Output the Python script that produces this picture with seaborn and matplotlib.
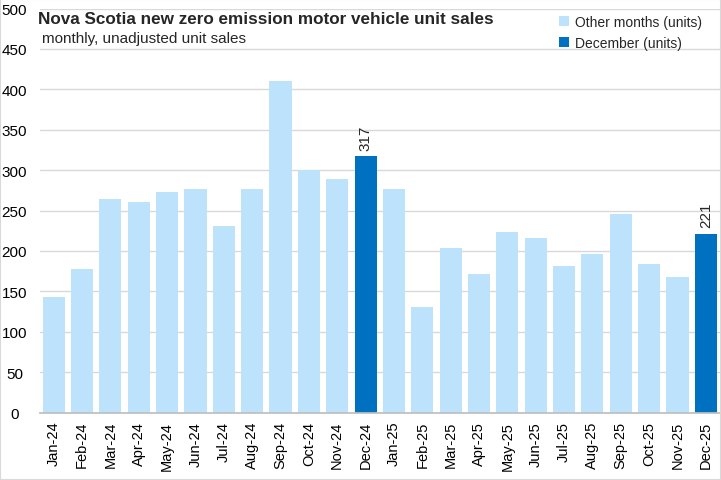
import matplotlib
matplotlib.use("Agg")
import matplotlib.pyplot as plt
import seaborn as sns
import pandas as pd
from matplotlib.patches import Patch, Rectangle

months = ["Jan-24", "Feb-24", "Mar-24", "Apr-24", "May-24", "Jun-24", "Jul-24", "Aug-24",
          "Sep-24", "Oct-24", "Nov-24", "Dec-24", "Jan-25", "Feb-25", "Mar-25", "Apr-25",
          "May-25", "Jun-25", "Jul-25", "Aug-25", "Sep-25", "Oct-25", "Nov-25", "Dec-25"]
units = [143, 178, 264, 261, 273, 276, 231, 276, 410, 300, 289, 317,
         276, 131, 204, 171, 223, 216, 181, 196, 246, 184, 168, 221]
series_names = ["Other months (units)", "December (units)"]

LIGHT = "#BDE2FB"
DARK = "#0070C0"

df = pd.DataFrame({"month": months, "units": units})
df["series"] = [series_names[1] if m.startswith("Dec") else series_names[0] for m in months]

sns.set_theme(style="white")
plt.rcParams["font.family"] = ["Liberation Sans", "DejaVu Sans"]

fig = plt.figure(figsize=(7.21, 4.81), dpi=100)
ax = fig.add_axes([39.5 / 721, 1 - 413.5 / 481, 680.5 / 721, (413.5 - 9.5) / 481])

sns.barplot(data=df, x="month", y="units", hue="series", order=months,
            hue_order=series_names, palette=[LIGHT, DARK], dodge=False,
            saturation=1, width=0.78, legend=False, ax=ax, linewidth=0)

ax.set_ylim(0, 500)
ax.set_xlim(-0.5, len(months) - 0.5)
ax.set_yticks(range(0, 501, 50))
ax.yaxis.grid(True, color="#D9D9D9", linewidth=1)
ax.set_axisbelow(True)
ax.set_xlabel("")
ax.set_ylabel("")
for s in ["top", "right", "left"]:
    ax.spines[s].set_visible(False)
ax.spines["bottom"].set_color("#BFBFBF")
ax.tick_params(axis="y", labelsize=11, length=0, pad=18, colors="black")
ax.tick_params(axis="x", labelsize=10.5, length=0, rotation=90, pad=6, colors="black")
ax.set_xticks(range(len(months)))
ax.set_xticks([i - 0.5 for i in range(len(months) + 1)], minor=True)
ax.tick_params(axis="x", which="minor", length=5, color="#BFBFBF", width=1)
for lbl in ax.get_yticklabels():
    lbl.set_horizontalalignment("center")

for i, (m, v) in enumerate(zip(months, units)):
    if m.startswith("Dec"):
        ax.text(i, v + 8, str(v), rotation=90, ha="center", va="bottom", fontsize=11)

fig.text(38 / 721, 1 - 20 / 481, "Nova Scotia new zero emission motor vehicle unit sales",
         fontsize=12.3, fontweight="bold", va="center", ha="left")
fig.text(42 / 721, 1 - 39 / 481, "monthly, unadjusted unit sales",
         fontsize=11, va="center", ha="left")

handles = [Patch(facecolor=LIGHT, edgecolor="none"), Patch(facecolor=DARK, edgecolor="none")]
fig.legend(handles, series_names, loc="upper left", bbox_to_anchor=(549 / 721, 1 - 6.5 / 481),
           frameon=False, fontsize=10, handlelength=0.75, handleheight=0.75,
           handletextpad=0.4, labelspacing=0.5, borderpad=0.2)

fig.patches.append(Rectangle((0, 0), 1, 1, transform=fig.transFigure, fill=False,
                             edgecolor="#D9D9D9", linewidth=1.5))

fig.savefig("out.png", dpi=100)
